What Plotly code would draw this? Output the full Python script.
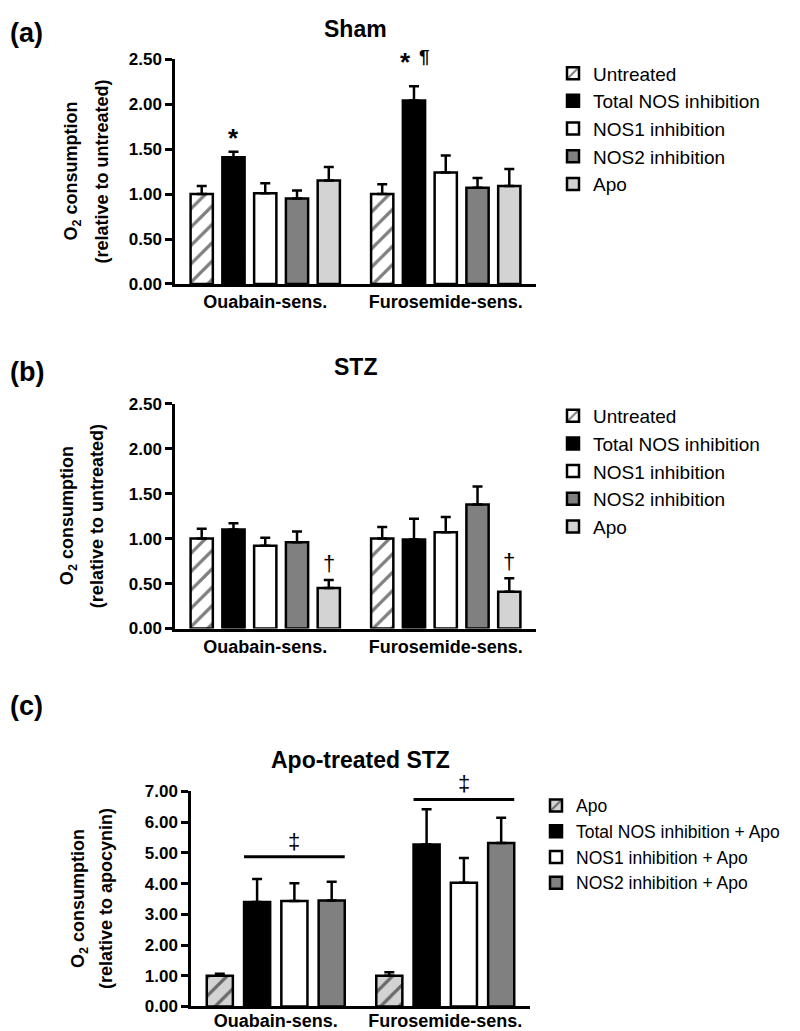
import plotly.graph_objects as go

W, H = 800, 1031

# ---------------- data ----------------
groups = ["Ouabain-sens.", "Furosemide-sens."]

ab_series = ["Untreated", "Total NOS inhibition", "NOS1 inhibition", "NOS2 inhibition", "Apo"]
sham_means = [[1.00, 1.00], [1.41, 2.04], [1.01, 1.24], [0.95, 1.07], [1.15, 1.09]]
sham_sem = [[0.09, 0.11], [0.06, 0.16], [0.11, 0.19], [0.09, 0.11], [0.15, 0.19]]

stz_means = [[1.00, 1.00], [1.10, 0.99], [0.92, 1.07], [0.96, 1.38], [0.45, 0.41]]
stz_sem = [[0.11, 0.13], [0.07, 0.23], [0.09, 0.17], [0.12, 0.20], [0.09, 0.15]]

c_series = ["Apo", "Total NOS inhibition + Apo", "NOS1 inhibition + Apo", "NOS2 inhibition + Apo"]
apo_means = [[1.00, 1.00], [3.40, 5.27], [3.43, 4.03], [3.45, 5.32]]
apo_sem = [[0.06, 0.11], [0.75, 1.15], [0.58, 0.80], [0.61, 0.82]]

# significance marks: (series index, group index, label, size, bold, xshift, yshift)
sham_marks = [(1, 0, "*", 26, True, 0, -3),
              (1, 1, "*", 26, True, -8, 7),
              (1, 1, "¶", 19, True, 11, 17)]
stz_marks = [(4, 0, "†", 22, False, 0, 2), (4, 1, "†", 22, False, 0, 2)]
apo_bracket_y = [4.87, 6.74]          # height of bracket lines per group
apo_bracket_series = (1, 3)          # bracket spans these series

# ---------------- styles ----------------
FONT = "Liberation Sans, Arial, Helvetica, sans-serif"
ab_styles = [
    dict(color="white", pattern=dict(shape="/", fgcolor="black", bgcolor="white", size=13, solidity=0.25)),
    dict(color="black"),
    dict(color="white"),
    dict(color="#808080"),
    dict(color="#d3d3d3"),
]
c_styles = [
    dict(color="#d3d3d3", pattern=dict(shape="/", fgcolor="black", bgcolor="#d3d3d3", size=13, solidity=0.25)),
    dict(color="black"),
    dict(color="white"),
    dict(color="#808080"),
]

BARGAP = 0.12
BARGROUPGAP = 0.30

fig = go.Figure()


def add_bars(series, means, sems, styles, xa, ya, legend):
    for name, m, s, st in zip(series, means, sems, styles):
        fig.add_trace(go.Bar(
            x=groups, y=m, name=name,
            marker=dict(line=dict(color="black", width=2.5), **st),
            error_y=dict(type="data", array=s, arrayminus=[0] * len(s), symmetric=False,
                         color="black", thickness=2.5, width=5),
            xaxis=xa, yaxis=ya, legend=legend,
        ))


add_bars(ab_series, sham_means, sham_sem, ab_styles, "x", "y", "legend")
add_bars(ab_series, stz_means, stz_sem, ab_styles, "x2", "y2", "legend2")
add_bars(c_series, apo_means, apo_sem, c_styles, "x3", "y3", "legend3")


def bar_x(gi, k, n):
    pitch = (1 - BARGAP) / n
    return gi + (k - (n - 1) / 2) * pitch


annotations = []
shapes = []

for k, gi, txt, sz, bold, xs, ys in sham_marks:
    annotations.append(dict(x=bar_x(gi, k, 5), y=sham_means[k][gi] + sham_sem[k][gi], xref="x", yref="y",
                            text=txt, showarrow=False, yanchor="bottom", xshift=xs, yshift=ys,
                            font=dict(family=FONT, size=sz, color="black", weight="bold" if bold else "normal")))
for k, gi, txt, sz, bold, xs, ys in stz_marks:
    annotations.append(dict(x=bar_x(gi, k, 5), y=stz_means[k][gi] + stz_sem[k][gi], xref="x2", yref="y2",
                            text=txt, showarrow=False, yanchor="bottom", xshift=xs, yshift=ys,
                            font=dict(family=FONT, size=sz, color="black", weight="bold" if bold else "normal")))
pitch_c = (1 - BARGAP) / 4
wbar_c = pitch_c * (1 - BARGROUPGAP)
for gi, yb in enumerate(apo_bracket_y):
    x0 = bar_x(gi, apo_bracket_series[0], 4) - wbar_c / 2
    x1 = bar_x(gi, apo_bracket_series[1], 4) + wbar_c / 2
    shapes.append(dict(type="line", xref="x3", yref="y3", x0=x0, x1=x1, y0=yb, y1=yb,
                       line=dict(color="black", width=3)))
    annotations.append(dict(x=(x0 + x1) / 2, y=yb, xref="x3", yref="y3", text="‡", showarrow=False,
                            yanchor="bottom", yshift=1, font=dict(family=FONT, size=22, color="black")))


def py(pix):
    return 1 - pix / H


# panel geometry (pixels)
panels = [
    dict(x0=167, x1=528, top=43, bot=272, title="Sham", title_y=12, label="(a)", label_y=16,
         yt1="O<sub>2</sub> consumption", yt2="(relative to untreated)", t1x=65, t2x=94),
    dict(x0=167, x1=528, top=394, bot=623, title="STZ", title_y=357, label="(b)", label_y=362,
         yt1="O<sub>2</sub> consumption", yt2="(relative to untreated)", t1x=60, t2x=89),
    dict(x0=183, x1=522, top=789, bot=1008, title="Apo-treated STZ", title_y=757, label="(c)", label_y=702,
         yt1="O<sub>2</sub> consumption", yt2="(relative to apocynin)", t1x=72, t2x=98),
]

for p in panels:
    cx = (p["x0"] + p["x1"]) / 2 / W
    cy = py((p["top"] + p["bot"]) / 2)
    annotations.append(dict(x=cx, y=py(p["title_y"]), xref="paper", yref="paper", text=p["title"],
                            showarrow=False, xanchor="center", yanchor="middle",
                            font=dict(family=FONT, size=23, color="black", weight="bold")))
    annotations.append(dict(x=0, y=py(p["label_y"]), xref="paper", yref="paper", text=p["label"],
                            showarrow=False, xanchor="left", yanchor="middle",
                            font=dict(family=FONT, size=27, color="black", weight="bold")))
    annotations.append(dict(x=p["t1x"] / W, y=cy, xref="paper", yref="paper", text=p["yt1"],
                            showarrow=False, textangle=-90, xanchor="center", yanchor="middle",
                            font=dict(family=FONT, size=18, color="black", weight="bold")))
    annotations.append(dict(x=p["t2x"] / W, y=cy, xref="paper", yref="paper", text=p["yt2"],
                            showarrow=False, textangle=-90, xanchor="center", yanchor="middle",
                            font=dict(family=FONT, size=18, color="black", weight="bold")))

xcommon = dict(type="category", range=[-0.5, 1.5], showline=True, linecolor="black", linewidth=2.5,
               ticks="", showgrid=False, zeroline=False,
               tickfont=dict(family=FONT, size=18, color="black", weight="bold"))
ycommon = dict(showline=True, linecolor="black", linewidth=2.5, ticks="outside", ticklen=7,
               tickwidth=2.5, tickcolor="black", showgrid=False, zeroline=False, tickformat=".2f",
               tickfont=dict(family=FONT, size=17, color="black", weight="bold"))

p0, p1, p2 = panels
legend_common = dict(xanchor="left", yanchor="top", bgcolor="rgba(0,0,0,0)", borderwidth=0,
                     traceorder="normal", itemclick=False)
fig.update_layout(
    width=W, height=H, margin=dict(l=0, r=0, t=0, b=0),
    paper_bgcolor="white", plot_bgcolor="white",
    barmode="group", bargap=BARGAP, bargroupgap=BARGROUPGAP,
    showlegend=True,
    font=dict(family=FONT, color="black"),
    xaxis=dict(domain=[p0["x0"] / W, p0["x1"] / W], anchor="y", **xcommon),
    yaxis=dict(domain=[py(p0["bot"]), py(p0["top"])], anchor="x", range=[0, 2.5], dtick=0.5, **ycommon),
    xaxis2=dict(domain=[p1["x0"] / W, p1["x1"] / W], anchor="y2", **xcommon),
    yaxis2=dict(domain=[py(p1["bot"]), py(p1["top"])], anchor="x2", range=[0, 2.5], dtick=0.5, **ycommon),
    xaxis3=dict(domain=[p2["x0"] / W, p2["x1"] / W], anchor="y3", ticklabelstandoff=-4, **xcommon),
    yaxis3=dict(domain=[py(p2["bot"]), py(p2["top"])], anchor="x3", range=[0, 7], dtick=1, **ycommon),
    legend=dict(x=545 / W, y=py(38), font=dict(family=FONT, size=19, color="black"), **legend_common),
    legend2=dict(x=545 / W, y=py(387), font=dict(family=FONT, size=19, color="black"), **legend_common),
    legend3=dict(x=528 / W, y=py(785), font=dict(family=FONT, size=17.5, color="black"), **legend_common),
    annotations=annotations,
    shapes=shapes,
)

fig.write_html("out.html")
